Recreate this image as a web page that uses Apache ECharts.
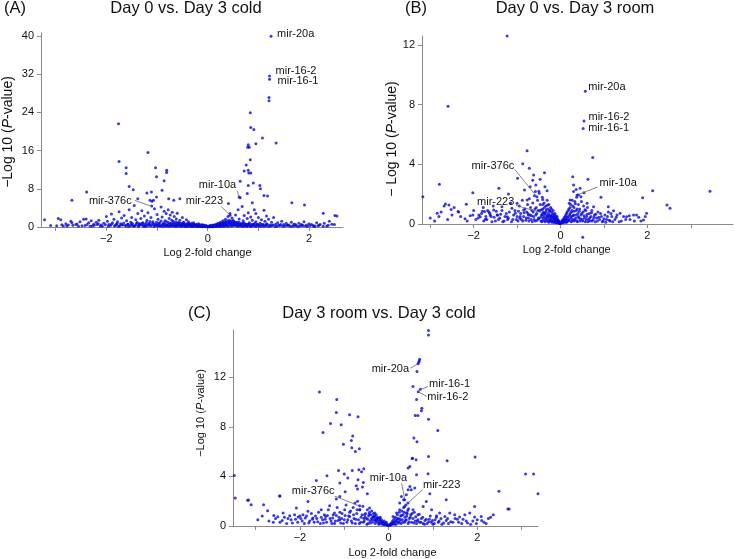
<!DOCTYPE html>
<html><head><meta charset="utf-8">
<script src="https://cdn.jsdelivr.net/npm/echarts@6/dist/echarts.min.js"></script>
<style>html,body{margin:0;padding:0;background:#fff}#c{width:735px;height:559px}</style>
</head><body><div id="c"></div>
<script>
// ---------------- DATA ----------------
const titles = ['Day 0 vs. Day 3 cold', 'Day 0 vs. Day 3 room', 'Day 3 room vs. Day 3 cold'];
const panelTags = ['(A)', '(B)', '(C)'];
const xAxisName = 'Log 2-fold change';
const xTickValues = [-3, -2, -1, 0, 1, 2, 3];
const xLabelValues = [-2, 0, 2];
const yLabelsA = [0, 8, 16, 24, 32, 40];
const yLabelsB = [0, 4, 8, 12];
const yLabelsC = [0, 4, 8, 12];

// Panel A: [log2 fold change, -log10 p]
const pointsA = [
 [1.25,39.9],[1.22,31.6],[1.22,30.9],[1.21,27.1],[1.21,26.4],[0.84,23.9],[0.85,20.8],[0.91,20.4],
 [1.08,18.6],[1.35,17.6],[0.95,17.4],[0.80,17.2],[0.82,16.7],[0.79,16.7],[0.84,14.1],[0.76,13.0],
 [0.80,11.9],[0.72,11.7],[0.81,11.3],[0.85,11.3],[0.90,9.2],[0.80,8.7],[1.03,8.7],[1.04,8.0],
 [0.64,9.6],[0.78,7.0],[1.11,6.6],[1.18,6.5],[0.62,6.3],[0.64,6.1],[0.88,5.1],[1.66,5.1],[1.91,4.6],
 [1.11,3.5],[2.28,2.9],[2.51,2.4],[0.95,2.8],[1.16,2.3],[0.41,4.9],[0.44,2.44],
 [-1.76,21.6],[-1.18,15.6],[-1.75,13.7],[-1.61,12.4],[-1.61,11.2],[-1.03,12.4],[-0.81,11.9],[-0.81,11.4],
 [-1.01,10.5],[-0.86,9.7],[-1.55,8.5],[-1.47,7.8],[-2.39,7.3],[-0.90,7.7],[-1.11,7.3],[-1.20,7.1],
 [-1.01,6.3],[-2.68,5.6],[-0.77,5.9],[-0.55,5.9],[-0.67,5.6],[-1.38,5.9],[-1.14,5.6],[-1.07,5.6],[-1.105,4.4]
];
const lowA = [
 [-3.22,1.5],[-2.95,1.8],[-2.9,1.5],[-2.8,0.7],[-2.7,1.2],[-2.68,0.9],[-2.6,0.5],[-2.52,1.1],[-2.45,1.6],[-2.4,1.7],
 [-2.35,0.9],[-2.3,1.3],[-2.25,0.6],[-2.2,1.0],[-2.15,1.4],[-2.1,0.4],[-2.05,0.8],[-2.0,2.2],[-1.98,1.2],[-1.95,0.5],
 [-1.9,2.7],[-1.88,0.9],[-1.85,1.6],[-1.82,0.3],[-1.78,1.1],[-1.75,3.2],[-1.72,0.7],[-1.7,1.9],[-1.68,0.4],[-1.65,2.4],
 [-1.6,1.3],[-1.58,0.6],[-1.55,3.6],[-1.52,1.0],[-1.5,2.0],[-1.48,0.3],[-1.45,4.5],[-1.42,1.5],[-1.4,0.8],[-1.38,2.8],
 [-1.35,0.5],[-1.32,1.8],[-1.3,3.4],[-1.28,0.9],[-1.25,2.3],[-1.22,0.4],[-1.2,1.4],[-1.18,3.0],[-1.15,0.7],[-1.12,2.0],
 [-1.1,5.4],[-1.08,1.1],[-1.05,3.8],[-1.02,0.5],[-1.0,2.6],[-0.98,1.6],[-0.95,0.9],[-0.92,4.2],[-0.9,2.1],[-0.88,0.6],
 [-0.86,3.3],[-0.84,1.3],[-0.82,2.8],[-0.8,0.4],[-0.78,3.6],[-0.76,1.8],[-0.74,2.5],[-0.72,0.8],[-0.7,3.1],[-0.68,1.2],
 [-0.66,2.2],[-0.64,0.5],[-0.62,1.7],[-0.6,2.9],[-0.58,0.9],[-0.55,1.4],[-0.52,0.6],[-0.5,2.0],[-0.48,1.0],[-0.45,0.4],
 [-0.42,1.5],[-0.4,0.7],[-0.38,1.1],[-0.35,0.3],[-0.32,0.8],[-0.3,0.5],[-0.28,0.9],[-0.25,0.3],[-0.22,0.6],[-0.2,0.4],
 [-0.18,0.7],[-0.15,0.2],[-0.12,0.5],[-0.1,0.3],[-0.08,0.4],[-0.05,0.15],[-0.03,0.3],[0.0,0.1],[0.03,0.2],[0.05,0.35],
 [0.08,0.15],[0.1,0.4],[0.12,0.25],[0.15,0.5],[0.18,0.3],[0.2,0.8],[0.22,0.5],[0.25,1.0],[0.27,0.4],[0.3,1.3],
 [0.32,0.7],[0.35,1.6],[0.37,0.5],[0.4,2.2],[0.42,1.1],[0.44,2.8],[0.46,0.8],[0.48,1.9],[0.5,1.4],[0.52,0.6],
 [0.55,2.5],[0.58,1.0],[0.6,3.6],[0.62,1.7],[0.65,0.7],[0.68,4.3],[0.7,1.3],[0.72,2.4],[0.75,0.5],[0.78,1.8],
 [0.8,3.0],[0.82,0.9],[0.85,2.1],[0.88,1.4],[0.9,0.6],[0.92,3.6],[0.95,1.1],[0.98,0.4],[1.0,2.0],[1.03,0.8],
 [1.06,1.5],[1.1,0.5],[1.13,1.2],[1.16,0.7],[1.2,1.6],[1.23,0.4],[1.26,1.0],[1.3,2.0],[1.34,0.6],[1.38,0.9],
 [1.42,0.3],[1.46,1.2],[1.5,0.5],[1.55,0.8],[1.6,0.4],[1.65,1.0],[1.7,0.6],[1.75,0.3],[1.8,0.8],[1.85,0.5],
 [1.9,1.1],[1.95,0.4],[2.0,0.7],[2.08,0.3],[2.15,0.9],[2.22,0.5],[2.3,0.8],[2.4,1.2],[2.45,0.6],[2.55,2.3],
 [-3.1,0.3],[-2.85,0.2],[-2.75,0.4],[-2.55,0.15],[-2.42,0.3],[-2.28,0.2],[-2.18,0.5],[-2.08,0.15],[-1.92,0.3],[-1.8,0.6],
 [-1.74,0.2],[-1.63,0.35],[-1.56,0.1],[-1.5,0.5],[-1.44,0.25],[-1.37,0.15],[-1.33,0.6],[-1.27,0.3],[-1.23,0.1],[-1.17,0.45],
 [-1.13,0.2],[-1.07,0.6],[-1.04,0.3],[-0.99,0.15],[-0.96,0.45],[-0.93,0.25],[-0.89,0.1],[-0.87,0.55],[-0.83,0.3],[-0.79,0.15],
 [-0.77,0.6],[-0.73,0.35],[-0.71,0.2],[-0.69,0.5],[-0.65,0.1],[-0.63,0.3],[-0.61,0.7],[-0.59,0.2],[-0.57,0.45],[-0.54,0.15],
 [-0.51,0.35],[-0.49,0.6],[-0.47,0.2],[-0.44,0.1],[-0.41,0.4],[-0.39,0.2],[-0.36,0.55],[-0.34,0.15],[-0.31,0.3],[-0.29,0.1],
 [-0.26,0.45],[-0.24,0.2],[-0.21,0.3],[-0.19,0.1],[-0.16,0.35],[-0.14,0.15],[-0.11,0.2],[-0.09,0.1],[-0.06,0.25],[-0.04,0.05],
 [-0.02,0.15],[0.02,0.05],[0.04,0.1],[0.06,0.2],[0.09,0.05],[0.11,0.15],[0.13,0.3],[0.16,0.1],[0.19,0.2],[0.21,0.4],
 [0.23,0.15],[0.26,0.6],[0.28,0.25],[0.29,0.9],[0.31,0.4],[0.33,0.15],[0.34,1.1],[0.36,0.7],[0.38,0.3],[0.39,1.3],
 [0.41,0.5],[0.43,0.9],[0.45,0.2],[0.47,1.2],[0.49,0.6],[0.51,0.3],[0.53,1.0],[0.56,0.4],[0.59,0.7],[0.61,0.2],
 [0.63,0.5],[0.66,0.3],[0.69,0.8],[0.71,0.15],[0.74,0.45],[0.77,0.25],[0.79,0.6],[0.83,0.3],[0.86,0.1],[0.89,0.5],
 [0.93,0.2],[0.97,0.6],[1.01,0.3],[1.05,0.15],[1.09,0.4],[1.14,0.2],[1.18,0.5],[1.24,0.2],[1.29,0.4],[1.36,0.15],
 [1.44,0.5],[1.52,0.2],[1.58,0.3],[1.67,0.15],[1.73,0.5],[1.82,0.2],[1.88,0.3],[1.97,0.15],[2.05,0.5],[2.12,0.2],
 [2.2,0.4],[2.35,0.2],[2.5,0.5]
];
const floorA = [
 [-1.31,0.42],[-1.29,0.78],[-1.26,0.18],[-1.24,0.55],[-1.21,0.95],[-1.19,0.27],[-1.16,0.66],[-1.14,1.15],[-1.11,0.35],[-1.09,0.82],
 [-1.06,0.12],[-1.04,0.58],[-1.01,1.02],[-0.99,0.38],[-0.97,0.75],[-0.94,0.22],[-0.92,1.25],[-0.9,0.48],[-0.87,0.88],[-0.85,0.16],
 [-0.83,0.62],[-0.81,1.12],[-0.79,0.33],[-0.77,0.95],[-0.75,0.14],[-0.73,0.7],[-0.71,1.4],[-0.69,0.28],[-0.67,0.85],[-0.65,0.45],
 [-0.63,1.05],[-0.61,0.18],[-0.59,0.62],[-0.57,0.95],[-0.55,0.32],[-0.53,0.78],[-0.51,0.12],[-0.49,0.5],[-0.47,0.88],[-0.45,0.25],
 [-0.43,0.65],[-0.41,0.1],[-0.39,0.45],[-0.37,0.75],[-0.35,0.2],[-0.33,0.52],[-0.31,0.08],[-0.29,0.35],[-0.27,0.6],[-0.25,0.15],
 [-0.23,0.42],[-0.21,0.08],[-0.19,0.25],[-0.17,0.48],[-0.15,0.1],[-0.13,0.3],[-0.11,0.05],[-0.09,0.2],[-0.07,0.35],[-0.05,0.08],
 [-0.03,0.18],[-0.01,0.05],[0.01,0.08],[0.03,0.05],[0.05,0.12],[0.07,0.2],[0.09,0.1],[0.11,0.3],[0.13,0.12],[0.15,0.22],
 [0.17,0.45],[0.19,0.15],[0.2,0.6],[0.22,0.28],[0.24,0.72],[0.25,0.1],[0.27,0.85],[0.28,0.42],[0.3,0.15],[0.31,0.95],
 [0.33,0.55],[0.35,0.25],[0.36,1.05],[0.38,0.62],[0.4,0.12],[0.41,0.82],[0.43,1.4],[0.45,0.45],[0.46,0.95],[0.48,0.2],
 [0.5,0.75],[0.52,1.15],[0.54,0.35],[0.56,0.88],[0.58,0.15],[0.6,0.55],[0.62,1.0],[0.64,0.28],[0.66,0.65],[0.68,0.12],
 [0.7,0.48],[0.72,0.85],[0.74,0.22],[0.76,0.6],[0.78,0.1],[0.8,0.4],[0.82,0.7],[0.84,0.18],[0.87,0.5],[0.9,0.25],
 [0.93,0.75],[0.96,0.12],[0.99,0.45],[1.02,0.2],[1.06,0.6],[1.1,0.15],[1.15,0.35],[1.2,0.1],[1.27,0.3],[1.33,0.12],
 [1.4,0.35],[1.48,0.15],[1.56,0.4],[1.63,0.18],[1.71,0.28],[1.78,0.12],[1.86,0.35],[1.93,0.2],[2.02,0.3],[2.1,0.12],
 [2.18,0.25],[2.28,0.15],[2.38,0.35],
 [-2.98,0.25],[-2.88,0.45],[-2.78,0.2],[-2.66,0.35],[-2.58,0.65],[-2.48,0.25],[-2.38,0.5],[-2.32,0.15],[-2.24,0.35],[-2.16,0.7],
 [-2.12,0.2],[-2.02,0.45],[-1.96,0.15],[-1.9,0.6],[-1.84,0.25],[-1.79,0.75],[-1.76,0.15],[-1.7,0.45],[-1.66,0.85],[-1.61,0.2],
 [-1.57,0.55],[-1.53,0.25],[-1.49,0.8],[-1.46,0.15],[-1.42,0.45],[-1.39,0.95],[-1.36,0.25],[-1.34,0.7]
];

// Panel B
const pointsB = [
 [-1.23,12.6],[-2.59,7.9],[0.57,8.9],[0.54,6.9],[0.52,6.4],[-0.77,4.91],[0.74,4.45],[-0.87,4.04],[-0.72,3.73],
 [-0.37,3.44],[-0.99,3.06],[0.28,3.17],[0.63,3.0],[-2.79,2.66],[-3.17,1.83],[-1.42,2.39],[-1.2,2.01],[-2.02,2.1],
 [2.12,2.23],[1.89,1.76],[0.93,1.79],[3.44,2.2],[2.45,1.27],[2.52,1.05],[0.51,-0.89],
 [-0.62,3.28],[-0.64,2.93],[-0.57,2.61],[-0.70,2.5],[-0.47,3.0],[-0.83,2.28],[-0.58,2.17],[-0.49,2.06],[-0.31,2.23],
 [-0.41,1.65],[0.30,2.61],[0.36,2.32],[0.45,2.39],[0.30,2.17],[0.54,2.1],[0.38,1.94],[0.47,1.83],[0.22,1.61],[0.20,1.39],
 [0.61,1.39],[0.76,1.16],[1.10,1.16],[1.22,0.89],[1.37,0.72],[1.52,0.49],[1.68,0.6],[1.91,0.27],[1.98,0.72],
 [-2.84,0.72],[-2.65,1.34],[-2.57,1.27],[-2.52,0.98],[-2.36,0.83],[-2.17,1.32],[-2.02,0.6],[-1.85,0.49],[-1.75,0.83],
 [-1.73,0.31],[-1.63,0.72],[-1.54,0.94],[-1.46,0.6],[-1.35,1.16],[-1.23,0.49],[-1.12,1.05],[-1.04,0.72],[-1.0,1.39],
 [-0.94,0.38],[-0.85,0.94],[-0.77,1.61],[-0.74,0.6],[-0.544,1.83],[0.414,1.94],[-0.406,0.715]
];
const lowB = [
 [-0.68,0.3],[-0.66,0.9],[-0.64,1.4],[-0.62,0.5],[-0.6,1.9],[-0.58,0.2],[-0.56,1.1],[-0.55,0.7],[-0.53,1.6],[-0.51,0.4],
 [-0.5,2.2],[-0.48,0.9],[-0.47,1.3],[-0.45,0.2],[-0.44,0.6],[-0.42,1.8],[-0.41,1.0],[-0.4,0.4],[-0.38,1.4],[-0.37,0.7],
 [-0.36,2.5],[-0.35,0.3],[-0.34,1.2],[-0.33,0.8],[-0.31,1.6],[-0.3,0.5],[-0.29,1.0],[-0.28,0.2],[-0.27,1.3],[-0.26,0.6],
 [-0.25,0.9],[-0.24,0.3],[-0.23,1.1],[-0.22,0.5],[-0.21,0.8],[-0.2,0.2],[-0.19,0.6],[-0.18,0.4],[-0.17,0.9],[-0.16,0.15],
 [-0.15,0.5],[-0.14,0.3],[-0.13,0.7],[-0.12,0.2],[-0.11,0.4],[-0.1,0.1],[-0.09,0.3],[-0.08,0.5],[-0.07,0.15],[-0.06,0.25],
 [-0.05,0.1],[-0.04,0.2],[-0.03,0.05],[-0.02,0.12],[0.0,0.05],[0.02,0.1],[0.03,0.2],[0.05,0.08],[0.06,0.3],[0.08,0.15],
 [0.09,0.45],[0.1,0.25],[0.12,0.6],[0.13,0.1],[0.14,0.35],[0.15,0.8],[0.17,0.2],[0.18,0.5],[0.19,1.0],[0.2,0.3],
 [0.22,0.7],[0.23,1.3],[0.24,0.15],[0.25,0.5],[0.26,0.9],[0.27,1.6],[0.28,0.3],[0.3,0.6],[0.31,1.1],[0.32,0.2],
 [0.33,1.5],[0.35,0.4],[0.36,0.9],[0.37,1.8],[0.38,0.2],[0.4,0.7],[0.41,1.3],[0.42,0.4],[0.44,1.0],[0.45,0.2],
 [0.47,0.6],[0.48,1.5],[0.5,0.3],[0.52,0.8],[0.53,1.2],[0.55,0.4],[0.57,0.15],[0.58,0.9],[0.6,0.5],[0.62,1.1],
 [0.64,0.3],[0.66,0.7],[0.68,0.2],[0.7,0.5],[0.72,0.9],[0.75,0.3],[0.78,0.6],[0.8,0.15],[0.83,0.4],[0.86,0.8],
 [0.9,0.3],[0.94,0.5],[0.98,0.2],[1.02,0.6],[1.06,0.3],[1.1,0.8],[1.14,0.2],[1.18,0.5],[1.25,0.3],[1.3,0.6],
 [1.4,0.2],[1.45,0.5],[1.6,0.3],[1.75,0.6],[1.85,0.2],[1.95,0.5],
 [-3.0,0.4],[-2.9,0.2],[-2.75,0.8],[-2.6,0.3],[-2.45,1.1],[-2.3,0.5],[-2.15,0.2],[-2.0,0.9],[-1.9,0.4],[-1.82,0.7],
 [-1.78,1.1],[-1.7,0.3],[-1.65,0.8],[-1.6,0.5],[-1.55,1.2],[-1.5,0.2],[-1.45,0.6],[-1.4,0.4],[-1.35,0.9],[-1.3,0.2],
 [-1.25,0.7],[-1.2,0.4],[-1.15,1.4],[-1.1,0.3],[-1.05,0.9],[-1.0,0.5],[-0.98,0.2],[-0.95,1.2],[-0.92,0.7],[-0.9,0.3],
 [-0.88,1.6],[-0.85,0.5],[-0.82,1.0],[-0.8,0.25],[-0.78,0.8],[-0.76,1.3],[-0.74,0.4],[-0.72,1.7],[-0.7,0.6]
];
const floorB = [
 [-0.46,0.45],[-0.44,0.95],[-0.43,0.15],[-0.42,0.6],[-0.41,1.3],[-0.4,0.25],[-0.39,0.8],[-0.38,0.5],[-0.37,1.1],[-0.36,0.15],
 [-0.35,0.65],[-0.34,0.4],[-0.33,0.95],[-0.32,0.2],[-0.31,0.55],[-0.3,1.25],[-0.29,0.35],[-0.28,0.7],[-0.27,0.12],[-0.26,0.45],
 [-0.25,0.85],[-0.24,0.2],[-0.23,0.55],[-0.22,0.3],[-0.21,1.0],[-0.2,0.12],[-0.19,0.4],[-0.18,0.7],[-0.17,0.22],[-0.16,0.5],
 [-0.15,0.1],[-0.14,0.35],[-0.13,0.6],[-0.12,0.15],[-0.11,0.3],[-0.1,0.5],[-0.09,0.08],[-0.08,0.2],[-0.07,0.35],[-0.06,0.1],
 [-0.05,0.2],[-0.04,0.06],[-0.03,0.14],[-0.01,0.04],[0.01,0.06],[0.02,0.15],[0.04,0.1],[0.05,0.25],[0.07,0.1],[0.08,0.35],
 [0.1,0.18],[0.11,0.5],[0.12,0.3],[0.14,0.7],[0.15,0.15],[0.16,0.45],[0.18,0.9],[0.19,0.25],[0.21,0.6],[0.22,1.1],
 [0.24,0.4],[0.25,0.8],[0.27,0.2],[0.28,1.2],[0.29,0.55],[0.31,0.85],[0.33,0.3],[0.34,1.35],[0.36,0.6],[0.38,1.0],
 [0.39,0.15],[0.41,0.5],[0.43,0.85],[0.46,0.35],[0.49,0.7],[0.51,0.2],[0.54,0.55],[0.56,0.95],[0.59,0.3],[0.61,0.65],
 [0.63,0.15],[0.67,0.4],[0.71,0.75],[0.73,0.2],[0.77,0.45],[0.81,0.65],[0.85,0.2],[0.88,0.45],[0.92,0.7],[0.96,0.15],
 [1.0,0.35],[1.04,0.12],[1.08,0.5],[1.12,0.25],[1.16,0.7],[1.2,0.15],[1.28,0.45],[1.35,0.15],[1.5,0.3],[1.58,0.55],
 [1.7,0.2],[1.8,0.45],[-0.5,0.35],[-0.52,0.9],[-0.54,0.25],[-0.57,0.6],[-0.59,1.0],[-0.61,0.3],[-0.63,0.8],[-0.65,0.15],
 [-0.67,0.55],[-0.69,1.1],[-0.73,0.2],[-0.75,0.7],[-0.79,0.4],[-0.84,0.75],[-0.87,0.2],[-0.93,0.5],[-0.97,0.85],[-1.02,0.3],
 [-1.08,0.6],[-1.13,0.15],[-1.18,0.8],[-1.22,0.3],[-1.28,0.5],[-1.33,0.15],[-1.38,0.65],[-1.43,0.3],[-1.48,0.85],[-1.53,0.45],
 [-1.58,0.15],[-1.62,0.6],[-1.68,0.9],[-1.72,0.5],[-1.77,0.2],[-1.8,0.85],[-1.88,0.6],[-1.95,0.3],[-2.08,0.55],[-2.2,0.35],
 [-2.35,0.8],[-2.5,0.6],[-2.68,1.2],[-2.8,0.5]
];

// Panel C
const pointsC = [
 [0.9,15.76],[0.9,15.4],[0.7,13.45],[0.69,13.3],[0.68,13.2],[0.663,13.07],[0.64,12.46],[0.55,11.25],[0.716,11.03],
 [0.67,10.82],[0.63,10.2],[0.75,9.5],[0.74,9.3],[0.6,8.9],[0.66,8.9],[0.9,8.6],[1.11,7.7],[0.57,7.1],[0.64,6.8],
 [0.9,5.6],[0.53,5.45],[0.62,5.35],[1.32,5.26],[1.95,5.56],[3.09,4.19],[3.27,4.19],[3.37,2.6],[2.49,2.8],[2.72,1.37],
 [-3.48,4.08],[-3.46,2.25],[-3.18,2.07],[-3.1,1.72],[-2.82,1.72],[-2.46,2.42],[-1.56,10.8],[-1.17,10.2],[-1.18,9.15],
 [-1.31,8.27],[-1.07,8.16],[-0.88,8.97],[-0.69,8.8],[-1.48,7.54],[-0.81,7.25],[-0.84,6.9],[-1.02,6.6],[-0.83,6.3],
 [-0.75,6.0],[-0.66,6.23],
 [-1.13,4.48],[-1.0,4.2],[-1.39,4.05],[-0.82,4.48],[-0.67,4.53],[-0.56,4.61],[-0.61,4.37],[-1.63,3.67],[-1.1,3.46],
 [-0.92,3.86],[-0.69,3.73],[-0.73,3.24],[-0.57,3.51],[-0.59,3.14],[-0.70,2.98],[-0.48,2.6],[-0.98,2.76],[-1.18,2.17],
 [-1.10,2.38],[-1.82,1.98],[-2.45,2.42],[-3.16,2.09],[-2.73,1.23],[-2.59,0.85],[-2.38,1.04],[-2.23,0.83],[-2.08,1.45],
 [-2.04,0.72],[-1.93,0.91],[-1.82,1.18],[-1.71,0.64],[-1.52,1.31],[-1.42,0.77],[-1.33,1.63],[-1.22,1.04],[-1.10,0.51],
 [-0.99,1.31],[-0.88,0.77],[-0.76,1.85],[-0.65,1.31],[-0.54,0.91],[-0.43,1.45],[-0.35,0.77],[-0.31,1.04],[-0.28,0.51],
 [-0.2,0.64],[-0.13,0.29],[0.10,0.77],[0.18,1.04],[0.25,1.85],[0.29,2.38],[0.34,2.12],[0.40,2.52],[0.44,2.92],
 [0.48,3.19],[0.51,2.92],[0.59,3.06],[0.25,1.31],[0.36,1.58],[0.40,1.04],[0.55,1.31],[0.66,0.91],[0.78,1.58],
 [0.85,1.98],[0.97,1.31],[1.08,0.83],[1.15,1.04],[1.27,0.77],[1.38,1.04],[1.49,0.91],[1.60,0.72],[1.72,0.91],
 [1.83,1.04],[1.94,0.72],[2.09,0.77],[2.69,1.37],[2.36,0.91],[1.94,1.58],[1.30,2.12],[0.93,2.6],[0.44,4.67],
 [0.48,4.8],[0.63,4.13],[0.89,4.21],[0.54,5.47],[0.36,2.12],[0.437,1.85],[-0.655,1.64]
];
const lowC = [
 [-0.55,0.4],[-0.52,1.0],[-0.5,0.6],[-0.48,1.3],[-0.46,0.2],[-0.45,0.8],[-0.43,1.1],[-0.42,0.4],[-0.4,0.9],[-0.39,0.6],
 [-0.38,1.2],[-0.36,0.3],[-0.35,0.7],[-0.34,1.0],[-0.32,0.5],[-0.31,0.8],[-0.3,0.2],[-0.29,0.6],[-0.28,0.9],[-0.27,0.4],
 [-0.25,0.7],[-0.24,0.3],[-0.23,0.55],[-0.21,0.2],[-0.2,0.45],[-0.19,0.7],[-0.17,0.3],[-0.16,0.5],[-0.15,0.15],[-0.13,0.35],
 [-0.12,0.2],[-0.1,0.4],[-0.09,0.1],[-0.08,0.25],[-0.06,0.15],[-0.05,0.3],[-0.03,0.1],[-0.02,0.05],[0.0,0.08],[0.02,0.05],
 [0.03,0.15],[0.05,0.1],[0.06,0.25],[0.08,0.15],[0.09,0.4],[0.11,0.2],[0.12,0.55],[0.14,0.3],[0.15,0.7],[0.17,0.15],
 [0.18,0.45],[0.2,0.9],[0.21,0.3],[0.22,0.6],[0.24,1.1],[0.25,0.4],[0.27,0.8],[0.28,0.2],[0.3,1.2],[0.31,0.5],
 [0.33,0.9],[0.34,1.5],[0.36,0.3],[0.37,0.7],[0.39,1.7],[0.4,0.5],[0.42,1.0],[0.44,0.2],[0.45,1.4],[0.47,0.6],
 [0.5,0.9],[0.52,0.3],[0.55,0.6],[0.58,1.1],[0.6,0.4],[0.63,0.2],[0.66,0.5],[0.7,0.3],[0.74,0.6],[0.78,0.2],
 [0.82,0.45],[0.87,0.2],[0.92,0.55],[0.96,0.3],[1.0,0.15],[1.05,0.5],[1.12,0.3],[1.2,0.15],[1.3,0.45],[1.35,0.2],
 [1.45,0.3],[1.55,0.55],[1.65,0.2],[1.75,0.4],[1.85,0.15],[2.0,0.5],[2.15,0.3],[2.25,0.6],
 [-2.95,0.5],[-2.85,0.8],[-2.7,0.4],[-2.55,0.6],[-2.45,0.3],[-2.35,0.7],[-2.3,0.2],[-2.2,0.5],[-2.12,0.9],[-2.05,0.3],
 [-1.98,0.6],[-1.9,0.2],[-1.85,0.8],[-1.78,0.4],[-1.74,1.0],[-1.68,0.3],[-1.62,0.6],[-1.58,1.1],[-1.54,0.2],[-1.49,0.5],
 [-1.45,0.9],[-1.4,0.3],[-1.36,1.3],[-1.32,0.6],[-1.28,0.2],[-1.25,0.9],[-1.2,0.4],[-1.16,1.5],[-1.12,0.7],[-1.08,0.25],
 [-1.05,1.0],[-1.0,0.5],[-0.96,1.7],[-0.94,0.3],[-0.9,0.8],[-0.86,1.2],[-0.84,0.4],[-0.8,1.5],[-0.78,0.6],[-0.75,0.2],
 [-0.72,1.0],[-0.7,2.0],[-0.68,0.5],[-0.65,1.3],[-0.63,0.3],[-0.6,0.9],[-0.58,1.6],[-0.56,0.6]
];
const floorC = [
 [-2.6,0.3],[-2.5,0.75],[-2.4,0.45],[-2.27,0.6],[-2.17,0.25],[-2.1,0.55],[-2.0,0.8],[-1.95,0.4],[-1.88,0.65],[-1.8,0.25],
 [-1.72,0.55],[-1.65,0.8],[-1.6,0.35],[-1.52,0.7],[-1.47,0.25],[-1.43,0.55],[-1.38,0.85],[-1.3,0.4],[-1.26,0.65],[-1.22,0.2],
 [-1.18,0.85],[-1.14,0.45],[-1.1,1.1],[-1.06,0.6],[-1.02,0.2],[-0.98,0.85],[-0.92,0.5],[-0.88,1.1],[-0.82,0.25],[-0.79,0.9],
 [-0.74,0.55],[-0.71,1.3],[-0.66,0.2],[-0.62,0.7],[-0.57,0.3],[-0.53,0.7],[-0.49,0.15],[-0.47,0.55],[-0.44,0.95],[-0.41,0.25],
 [-0.37,0.5],[-0.33,0.75],[-0.3,0.4],[-0.26,0.6],[-0.22,0.15],[-0.18,0.4],[-0.14,0.25],[-0.11,0.12],[-0.07,0.2],[-0.04,0.1],
 [0.04,0.08],[0.07,0.18],[0.1,0.3],[0.13,0.15],[0.16,0.4],[0.19,0.6],[0.23,0.25],[0.26,0.55],[0.29,0.85],[0.32,0.3],
 [0.35,1.1],[0.38,0.45],[0.41,0.8],[0.43,1.25],[0.46,0.35],[0.49,0.7],[0.53,1.0],[0.57,0.25],[0.61,0.75],[0.65,0.4],
 [0.69,0.95],[0.73,0.3],[0.77,0.7],[0.81,0.15],[0.85,0.55],[0.9,0.35],[0.94,0.8],[0.99,0.45],[1.03,0.2],[1.08,0.7],
 [1.14,0.4],[1.18,0.6],[1.24,0.25],[1.33,0.6],[1.4,0.35],[1.5,0.6],[1.58,0.3],[1.68,0.55],[1.78,0.25],[1.9,0.4],
 [1.98,0.2],[2.1,0.45],[2.2,0.2],[2.3,0.7]
];

// annotated miRNAs
const annoNamesA = ['mir-20a','mir-16-2','mir-16-1','mir-10a','mir-223','mir-376c'];
const annoPointsA = [[1.25,39.9],[1.22,31.6],[1.22,30.9],[0.64,6.1],[0.44,2.44],[-1.105,4.4]];
const annoNamesB = ['mir-20a','mir-16-2','mir-16-1','mir-376c','mir-10a','mir-223'];
const annoPointsB = [[0.57,8.9],[0.54,6.9],[0.52,6.4],[-0.544,1.83],[0.414,1.94],[-0.406,0.715]];
const annoNamesC = ['mir-20a','mir-16-1','mir-16-2','mir-10a','mir-223','mir-376c'];
const annoPointsC = [[0.663,13.07],[0.716,11.03],[0.67,10.82],[0.36,2.12],[0.437,1.85],[-0.655,1.64]];

// ---------------- STYLE / LAYOUT ----------------
const FONT = "'Liberation Sans', Arial, Helvetica, sans-serif";
const AXIS = '#8a8a8a';
const DOT = '#0a0adc';

const annoLayoutA = [
 {dx:6, dy:-2, align:'left'},
 {dx:6, dy:-5, align:'left'},
 {dx:8, dy:2, align:'left'},
 {dx:-4, dy:-13, align:'right', line:[-3,-7,-1,-1]},
 {dx:-7, dy:-14, align:'right', line:[-9,-9,-1,-1]},
 {dx:-20, dy:-5, align:'right', line:[-17,-5.5,-1,0]}
];
const annoLayoutB = [
 {dx:3, dy:-4, align:'left'},
 {dx:4.5, dy:-3.7, align:'left'},
 {dx:5, dy:-1, align:'left'},
 {dx:-22.6, dy:-31, align:'right', line:[-22,-27,-1,-1]},
 {dx:21, dy:-11.7, align:'left', line:[19,-8,1,-1]},
 {dx:-28.6, dy:-11, align:'right', line:[-27,-8,-1,-0.5]}
];
const annoLayoutC = [
 {dx:-9, dy:5.3, align:'right', line:[-7.6,4.3,-1,0.5]},
 {dx:8.7, dy:-5.3, align:'left', line:[7.7,-2.7,1,0]},
 {dx:9, dy:5, align:'left', line:[8.7,4.8,1,0.5]},
 {dx:-16.2, dy:-21.7, align:'center', line:[-3,-16.5,0,-1]},
 {dx:15, dy:-18.3, align:'left', line:[14.4,-13.3,1,-1]},
 {dx:-25, dy:-14.2, align:'right', line:[-25,-9.5,-1,0]}
];

const fmt = v => String(v).replace('-', '\u2212');

function xAx(gi, min, max) {
  return {
    type: 'value', gridIndex: gi, min: min, max: max,
    axisLine: {show: true, onZero: false, lineStyle: {color: AXIS, width: 1}},
    axisTick: {show: true, length: 4, inside: false, lineStyle: {color: AXIS}, customValues: xTickValues},
    axisLabel: {customValues: xLabelValues, formatter: fmt, color: '#111', fontSize: 11, fontFamily: FONT, margin: 6},
    splitLine: {show: false}
  };
}
function yAx(gi, max, labels) {
  return {
    type: 'value', gridIndex: gi, min: 0, max: max,
    axisLine: {show: true, onZero: false, lineStyle: {color: AXIS, width: 1}},
    axisTick: {show: true, length: 4, inside: false, lineStyle: {color: AXIS}, customValues: labels},
    axisLabel: {customValues: labels, formatter: fmt, color: '#111', fontSize: 11, fontFamily: FONT, margin: 7},
    splitLine: {show: false}
  };
}
function scatter(gi, pts) {
  return {type: 'scatter', xAxisIndex: gi, yAxisIndex: gi, data: pts, symbol: 'circle', symbolSize: 3,
    itemStyle: {color: DOT}, clip: false, silent: true, animation: false, large: false};
}
function annoSeries(gi, names, pts, layout) {
  return {
    type: 'custom', xAxisIndex: gi, yAxisIndex: gi, clip: false, silent: true, z: 10, animation: false,
    data: pts.map((p, i) => [p[0], p[1], i]),
    renderItem: function (params, api) {
      const i = api.value(2);
      const c = api.coord([api.value(0), api.value(1)]);
      const L = layout[i];
      const children = [{
        type: 'text',
        style: {x: c[0] + L.dx, y: c[1] + L.dy, text: names[i], fill: '#111',
          fontSize: 11, fontFamily: FONT, align: L.align, textAlign: L.align,
          verticalAlign: 'middle', textVerticalAlign: 'middle'}
      }];
      if (L.line) {
        children.push({type: 'line',
          shape: {x1: c[0] + L.line[0], y1: c[1] + L.line[1], x2: c[0] + L.line[2], y2: c[1] + L.line[3]},
          style: {stroke: '#666', lineWidth: 0.8}});
      }
      return {type: 'group', children: children};
    }
  };
}
function txt(x, y, text, size, align, rot, rich) {
  const st = {x: 0, y: 0, text: text, fill: '#111', fontSize: size, fontFamily: FONT,
    align: align, textAlign: align, verticalAlign: 'middle', textVerticalAlign: 'middle'};
  if (rich) st.rich = rich;
  return {type: 'text', x: x, y: y, rotation: rot || 0, silent: true, style: st};
}
const italicP14 = {i: {fontSize: 14, fontFamily: FONT, fontStyle: 'italic', fill: '#111'}};
const italicP11 = {i: {fontSize: 11, fontFamily: FONT, fontStyle: 'italic', fill: '#111'}};

const chart = echarts.init(document.getElementById('c'), null, {renderer: 'canvas'});
chart.setOption({
  animation: false,
  backgroundColor: '#fff',
  grid: [
    {left: 41, top: 33, width: 302, height: 194},
    {left: 422, top: 36, width: 311, height: 188},
    {left: 233, top: 330, width: 305, height: 196}
  ],
  xAxis: [xAx(0, -3.29, 2.67), xAx(1, -3.19, 3.97), xAx(2, -3.51, 3.37)],
  yAxis: [yAx(0, 40.6, yLabelsA), yAx(1, 12.6, yLabelsB), yAx(2, 15.8, yLabelsC)],
  series: [
    scatter(0, lowA), scatter(0, floorA), scatter(0, pointsA),
    scatter(1, lowB), scatter(1, floorB), scatter(1, pointsB),
    scatter(2, lowC), scatter(2, floorC), scatter(2, pointsC),
    annoSeries(0, annoNamesA, annoPointsA, annoLayoutA),
    annoSeries(1, annoNamesB, annoPointsB, annoLayoutB),
    annoSeries(2, annoNamesC, annoPointsC, annoLayoutC)
  ],
  graphic: [
    txt(186, 8, titles[0], 16.5, 'center'),
    txt(4, 8, panelTags[0], 16.5, 'left'),
    txt(575, 8, titles[1], 16.5, 'center'),
    txt(405, 8, panelTags[1], 16.5, 'left'),
    txt(379, 313, titles[2], 16.5, 'center'),
    txt(188, 313, panelTags[2], 16.5, 'left'),
    txt(207.5, 253, xAxisName, 11, 'center'),
    txt(566.7, 250, xAxisName, 11, 'center'),
    txt(392.5, 553, xAxisName, 11, 'center'),
    txt(8, 132, '\u2212Log 10 ({i|P}-value)', 14, 'center', Math.PI / 2, italicP14),
    txt(392, 139, '\u2212 Log 10 ({i|P}-value)', 14, 'center', Math.PI / 2, italicP14),
    txt(201, 413, '\u2212Log 10 ({i|P}-value)', 11, 'center', Math.PI / 2, italicP11)
  ]
});
</script>
</body></html>
